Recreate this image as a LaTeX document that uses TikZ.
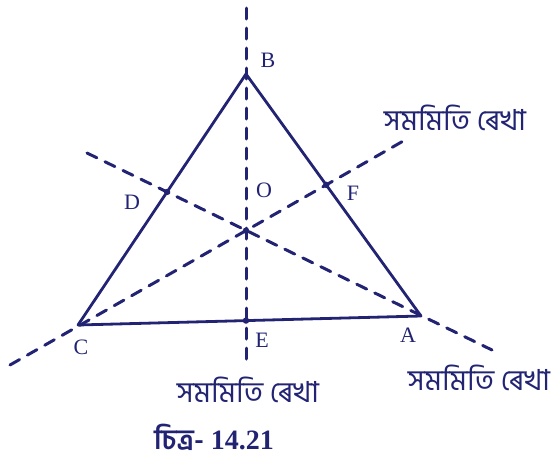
\documentclass[tikz,border=0pt]{standalone}
\usepackage{fontspec}
\setmainfont{Liberation Serif}
\newfontfamily\bnfont[Script=Bengali]{Hind Siliguri}
\definecolor{ink}{RGB}{34,36,115}
\begin{document}
\begin{tikzpicture}[x=1pt,y=-1pt,line cap=round,
    symline/.style={ink,line width=3pt,dash pattern=on 11pt off 9pt},
    side/.style={ink,line width=2.8pt,line join=round},
    lbl/.style={text=ink,font=\fontsize{22}{22}\selectfont},
    bn/.style={text=ink,font=\fontsize{29}{29}\selectfont\bnfont}]
    \useasboundingbox (0,0) rectangle (552,464);
    % vertices and ends of the lines of symmetry
    \coordinate (B) at (246,74);
    \coordinate (C) at (78,325);
    \coordinate (A) at (421,316);
    \coordinate (vtop) at (246,8);
    \coordinate (vbot) at (246,364);
    \coordinate (cend) at (10,365);
    \coordinate (fend) at (405,140);
    \coordinate (dend) at (87,153);
    \coordinate (aend) at (492,350);
    \coordinate (D) at (intersection of B--C and dend--aend);
    \coordinate (F) at (intersection of B--A and cend--fend);
    \coordinate (E) at (intersection of C--A and vtop--vbot);
    \coordinate (O) at (intersection of vtop--vbot and cend--fend);

    \draw[symline] (vtop) -- (vbot);
    \draw[symline] (cend) -- (fend);
    \draw[symline] (dend) -- (aend);
    \draw[side] (A) -- (B) -- (C) -- cycle;
    \foreach \p in {D,E,F,O}{
        \fill[ink] (\p) circle (3.2pt);
    }

    \node[lbl] (lB) at (268,60) {B};
    \node[lbl] (lC) at (81,347) {C};
    \node[lbl] (lA) at (408,335) {A};
    \node[lbl] (lO) at (264,190) {O};
    \node[lbl] (lD) at (132,202) {D};
    \node[lbl] (lE) at (262,340) {E};
    \node[lbl] (lF) at (353,193) {F};

    \node[bn] (symF) at (455,118) {সমমিতি ৰেখা};
    \node[bn] (symE) at (248,390) {সমমিতি ৰেখা};
    \node[bn] (symA) at (479,378) {সমমিতি ৰেখা};
    \node[bn,font=\fontsize{28}{28}\selectfont\bnfont\bfseries] (cap) at (214,437) {চিত্ৰ- \textrm{14.21}};
\end{tikzpicture}
\end{document}
